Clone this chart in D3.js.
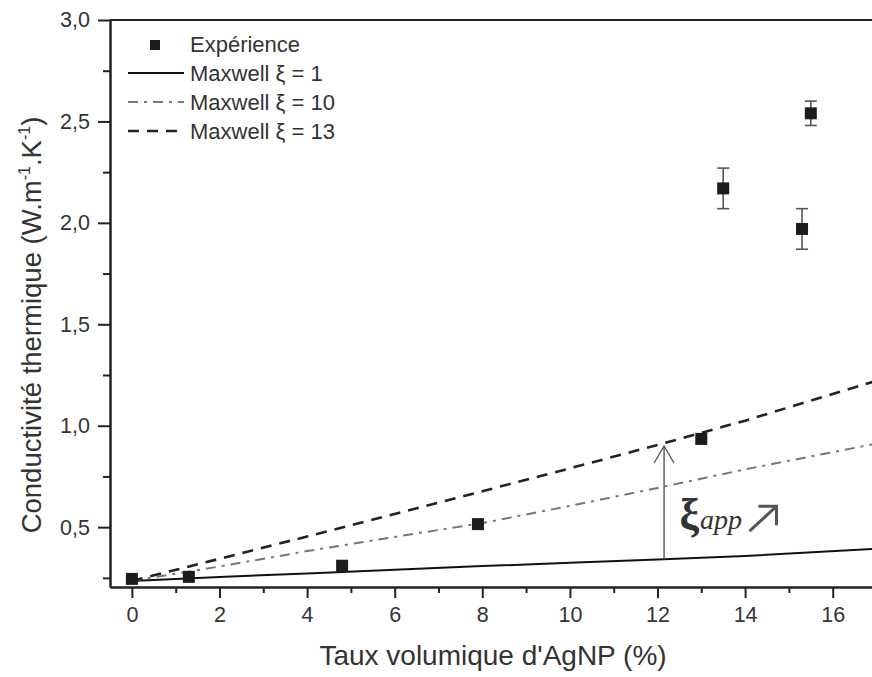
<!DOCTYPE html>
<html lang="fr">
<head>
<meta charset="UTF-8">
<title>Conductivité thermique</title>
<script src="https://cdn.jsdelivr.net/npm/d3@7"></script>
<style>
  body { margin: 0; background: #fff; }
  svg text { font-family: "Liberation Sans", Arial, sans-serif; fill: #333; }
</style>
</head>
<body>
<div id="chart"></div>
<script>
// mesures (points + barres d'erreur)
const expX   = [0, 1.3, 4.8, 7.9, 13.0, 13.5, 15.3, 15.5];
const expY   = [0.245, 0.255, 0.31, 0.515, 0.935, 2.17, 1.97, 2.54];
const expErr = [0, 0, 0, 0, 0, 0.10, 0.10, 0.06];

// modèle de Maxwell
const modelX = [0, 2, 4, 6, 8, 10, 12, 14, 17];
const maxwell1  = [0.235, 0.254, 0.272, 0.29, 0.308, 0.324, 0.341, 0.358, 0.394];
const maxwell10 = [0.235, 0.306, 0.382, 0.452, 0.52, 0.605, 0.693, 0.785, 0.912];
const maxwell13 = [0.235, 0.344, 0.454, 0.565, 0.677, 0.79, 0.905, 1.025, 1.222];

const xTicks = [0, 2, 4, 6, 8, 10, 12, 14, 16];
const yTicks = [0.5, 1.0, 1.5, 2.0, 2.5, 3.0];

const W = 872, H = 677;
const mLeft = 110, mTop = 20, mBottom = 587;

const svg = d3.select("#chart").append("svg")
  .attr("width", W).attr("height", H);

const x = d3.scaleLinear().domain([-0.5, 17]).range([mLeft, 876.5]);
const y = d3.scaleLinear().domain([0.205, 3.0]).range([mBottom, mTop]);
const fmt = d => d3.format(".1f")(d).replace(".", ",");

// lignes du modèle
const line = d3.line().x((d, i) => x(modelX[i])).y(d => y(d));
const series = [
  { vals: maxwell1,  color: "#111", width: 2,   dash: null,       label: "Maxwell ξ = 1" },
  { vals: maxwell10, color: "#777", width: 2,   dash: "10,6,3,6", label: "Maxwell ξ = 10" },
  { vals: maxwell13, color: "#222", width: 2.6, dash: "11,8",     label: "Maxwell ξ = 13" }
];
series.forEach(s => {
  svg.append("path")
    .attr("d", line(s.vals))
    .attr("fill", "none")
    .attr("stroke", s.color)
    .attr("stroke-width", s.width)
    .attr("stroke-dasharray", s.dash);
});

// axes
const yAxis = svg.append("g").attr("transform", `translate(${mLeft},0)`)
  .call(d3.axisLeft(y).tickValues(yTicks).tickFormat(fmt).tickSize(12).tickSizeOuter(0).tickPadding(8));
const yMinor = svg.append("g").attr("transform", `translate(${mLeft},0)`)
  .call(d3.axisLeft(y).tickValues([0.25, 0.75, 1.25, 1.75, 2.25, 2.75]).tickFormat("").tickSize(7).tickSizeOuter(0));
const xAxis = svg.append("g").attr("transform", `translate(0,${mBottom})`)
  .call(d3.axisBottom(x).tickValues(xTicks).tickFormat(d3.format("d")).tickSize(11).tickSizeOuter(0).tickPadding(9));
const xMinor = svg.append("g").attr("transform", `translate(0,${mBottom})`)
  .call(d3.axisBottom(x).tickValues([1, 3, 5, 7, 9, 11, 13, 15]).tickFormat("").tickSize(6).tickSizeOuter(0));

[yAxis, yMinor, xAxis, xMinor].forEach(g => {
  g.select(".domain").attr("stroke", "#222").attr("stroke-width", 2);
  g.selectAll(".tick line").attr("stroke", "#222").attr("stroke-width", 2);
  g.selectAll(".tick text").attr("font-size", 21.5).attr("fill", "#333")
    .style("font-family", "'Liberation Sans', Arial, sans-serif");
});

// cadre du haut
svg.append("line")
  .attr("x1", mLeft).attr("x2", W).attr("y1", mTop).attr("y2", mTop)
  .attr("stroke", "#222").attr("stroke-width", 2);

// barres d'erreur
const pts = expX.map((v, i) => ({ x: v, y: expY[i], e: expErr[i] }));
const eb = svg.append("g").attr("stroke", "#555").attr("stroke-width", 1.6);
pts.filter(d => d.e > 0).forEach(d => {
  eb.append("line").attr("x1", x(d.x)).attr("x2", x(d.x))
    .attr("y1", y(d.y + d.e)).attr("y2", y(d.y - d.e));
  [d.y + d.e, d.y - d.e].forEach(v => {
    eb.append("line").attr("x1", x(d.x) - 6).attr("x2", x(d.x) + 6)
      .attr("y1", y(v)).attr("y2", y(v));
  });
});

// points expérimentaux
svg.selectAll(".pt").data(pts).enter().append("rect")
  .attr("class", "pt")
  .attr("x", d => x(d.x) - 6).attr("y", d => y(d.y) - 6)
  .attr("width", 12).attr("height", 12)
  .attr("fill", "#1c1c1c");

// annotation ξapp
const annX = 12.15, annFrom = 0.342, annTo = 0.9;
const ax = x(annX), ay1 = y(annFrom), ay2 = y(annTo);
svg.append("line").attr("x1", ax).attr("x2", ax).attr("y1", ay1).attr("y2", ay2)
  .attr("stroke", "#555").attr("stroke-width", 1.4);
svg.append("path")
  .attr("d", `M${ax - 10},${ay2 + 17}L${ax},${ay2}L${ax + 10},${ay2 + 17}`)
  .attr("fill", "none").attr("stroke", "#555").attr("stroke-width", 1.4);

const lab = svg.append("text").attr("x", x(12.5)).attr("y", y(0.49))
  .style("font-family", "'Liberation Serif', 'DejaVu Serif', serif")
  .attr("fill", "#555");
lab.append("tspan").attr("font-size", 44).attr("font-weight", "bold").text("ξ");
lab.append("tspan").attr("font-size", 28).attr("font-style", "italic").attr("dx", 1).text("app");

// petite flèche montante
const fx = x(14.1), fy = y(0.48);
svg.append("path")
  .attr("d", `M${fx},${fy}L${fx + 26},${fy - 24}M${fx + 9},${fy - 25}L${fx + 27},${fy - 25}L${fx + 27},${fy - 6}`)
  .attr("fill", "none").attr("stroke", "#555").attr("stroke-width", 3);

// légende
const leg = svg.append("g");
leg.append("rect").attr("x", 150).attr("y", 40).attr("width", 10).attr("height", 10).attr("fill", "#1c1c1c");
leg.append("text").attr("x", 190).attr("y", 52).attr("font-size", 22).text("Expérience");
series.forEach((s, i) => {
  const yy = 81 + i * 29;
  leg.append("line").attr("x1", 128).attr("x2", 184).attr("y1", yy - 8).attr("y2", yy - 8)
    .attr("stroke", s.color).attr("stroke-width", s.width === 2.6 ? 2.4 : 2)
    .attr("stroke-dasharray", s.dash);
  leg.append("text").attr("x", 190).attr("y", yy).attr("font-size", 22).text(s.label);
});

// titres des axes
svg.append("text")
  .attr("x", 493).attr("y", 665)
  .attr("text-anchor", "middle").attr("font-size", 28)
  .text("Taux volumique d'AgNP (%)");

const yt = svg.append("text")
  .attr("transform", "translate(41,325) rotate(-90)")
  .attr("text-anchor", "middle").attr("font-size", 27.5);
yt.append("tspan").text("Conductivité thermique (W.m");
yt.append("tspan").attr("font-size", 16).attr("dy", -11).text("-1");
yt.append("tspan").attr("dy", 11).text(".K");
yt.append("tspan").attr("font-size", 16).attr("dy", -11).text("-1");
yt.append("tspan").attr("dy", 11).text(")");
</script>
</body>
</html>
